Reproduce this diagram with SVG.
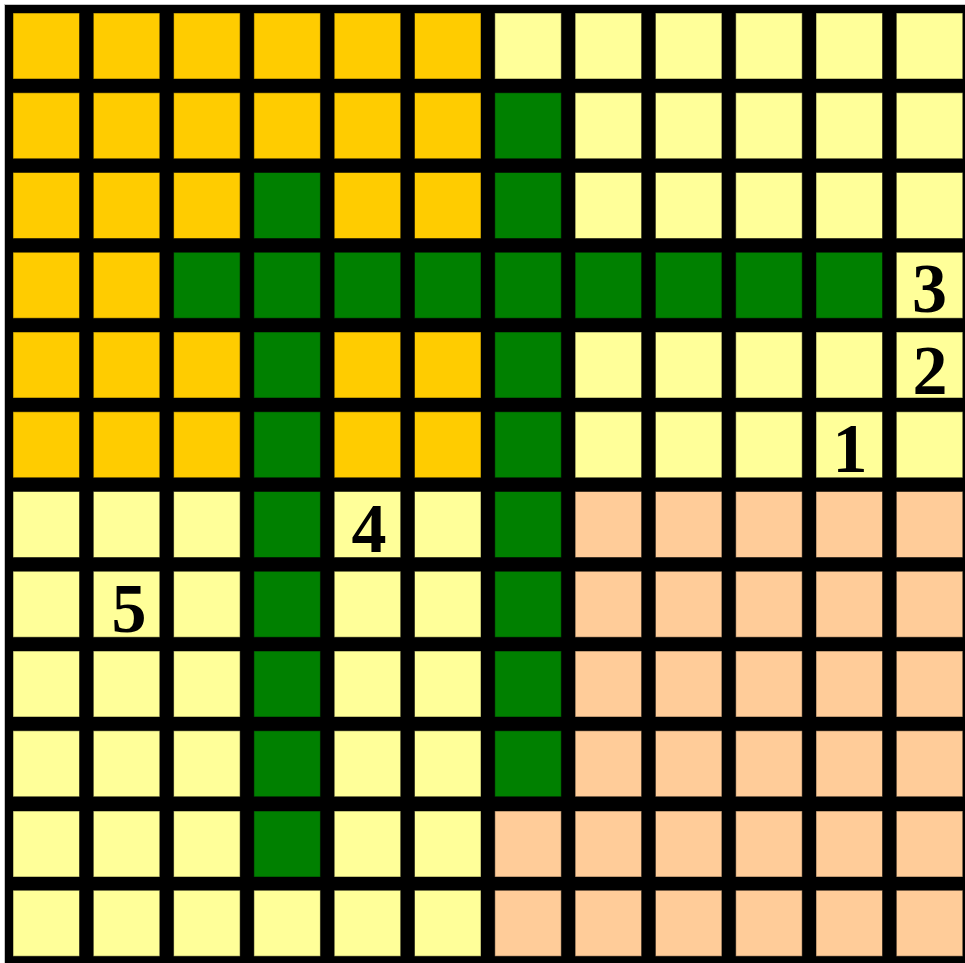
<svg xmlns="http://www.w3.org/2000/svg" width="965" height="963" viewBox="0 0 965 963">
<style>
rect.c{stroke:#000;stroke-opacity:0.5;stroke-width:1;width:66.5px;height:66px}
.o{fill:#FFCC00}.y{fill:#FFFF99}.g{fill:#008000}.p{fill:#FFCC99}
text{font-family:"Liberation Serif","Times New Roman",serif;font-weight:bold;font-size:70px;fill:#000;text-anchor:middle}
</style>
<rect x="0" y="0" width="965" height="963" fill="#fff"/>
<rect x="4" y="4" width="961" height="959" fill="#c4c4c4"/>
<rect x="5" y="5" width="960" height="958" fill="#000"/>
<g id="row0">
<rect class="c o" x="13" y="13" width="66.5" height="66"/><rect class="c o" x="93.3" y="13" width="66.5" height="66"/><rect class="c o" x="173.6" y="13" width="66.5" height="66"/><rect class="c o" x="253.9" y="13" width="66.5" height="66"/><rect class="c o" x="334.2" y="13" width="66.5" height="66"/><rect class="c o" x="414.5" y="13" width="66.5" height="66"/><rect class="c y" x="494.8" y="13" width="66.5" height="66"/><rect class="c y" x="575.1" y="13" width="66.5" height="66"/><rect class="c y" x="655.4" y="13" width="66.5" height="66"/><rect class="c y" x="735.7" y="13" width="66.5" height="66"/><rect class="c y" x="816" y="13" width="66.5" height="66"/><rect class="c y" x="896.3" y="13" width="66.5" height="66"/>
</g>
<g id="row1">
<rect class="c o" x="13" y="92.75" width="66.5" height="66"/><rect class="c o" x="93.3" y="92.75" width="66.5" height="66"/><rect class="c o" x="173.6" y="92.75" width="66.5" height="66"/><rect class="c o" x="253.9" y="92.75" width="66.5" height="66"/><rect class="c o" x="334.2" y="92.75" width="66.5" height="66"/><rect class="c o" x="414.5" y="92.75" width="66.5" height="66"/><rect class="c g" x="494.8" y="92.75" width="66.5" height="66"/><rect class="c y" x="575.1" y="92.75" width="66.5" height="66"/><rect class="c y" x="655.4" y="92.75" width="66.5" height="66"/><rect class="c y" x="735.7" y="92.75" width="66.5" height="66"/><rect class="c y" x="816" y="92.75" width="66.5" height="66"/><rect class="c y" x="896.3" y="92.75" width="66.5" height="66"/>
</g>
<g id="row2">
<rect class="c o" x="13" y="172.5" width="66.5" height="66"/><rect class="c o" x="93.3" y="172.5" width="66.5" height="66"/><rect class="c o" x="173.6" y="172.5" width="66.5" height="66"/><rect class="c g" x="253.9" y="172.5" width="66.5" height="66"/><rect class="c o" x="334.2" y="172.5" width="66.5" height="66"/><rect class="c o" x="414.5" y="172.5" width="66.5" height="66"/><rect class="c g" x="494.8" y="172.5" width="66.5" height="66"/><rect class="c y" x="575.1" y="172.5" width="66.5" height="66"/><rect class="c y" x="655.4" y="172.5" width="66.5" height="66"/><rect class="c y" x="735.7" y="172.5" width="66.5" height="66"/><rect class="c y" x="816" y="172.5" width="66.5" height="66"/><rect class="c y" x="896.3" y="172.5" width="66.5" height="66"/>
</g>
<g id="row3">
<rect class="c o" x="13" y="252.25" width="66.5" height="66"/><rect class="c o" x="93.3" y="252.25" width="66.5" height="66"/><rect class="c g" x="173.6" y="252.25" width="66.5" height="66"/><rect class="c g" x="253.9" y="252.25" width="66.5" height="66"/><rect class="c g" x="334.2" y="252.25" width="66.5" height="66"/><rect class="c g" x="414.5" y="252.25" width="66.5" height="66"/><rect class="c g" x="494.8" y="252.25" width="66.5" height="66"/><rect class="c g" x="575.1" y="252.25" width="66.5" height="66"/><rect class="c g" x="655.4" y="252.25" width="66.5" height="66"/><rect class="c g" x="735.7" y="252.25" width="66.5" height="66"/><rect class="c g" x="816" y="252.25" width="66.5" height="66"/><rect class="c y" x="896.3" y="252.25" width="66.5" height="66"/>
</g>
<g id="row4">
<rect class="c o" x="13" y="332" width="66.5" height="66"/><rect class="c o" x="93.3" y="332" width="66.5" height="66"/><rect class="c o" x="173.6" y="332" width="66.5" height="66"/><rect class="c g" x="253.9" y="332" width="66.5" height="66"/><rect class="c o" x="334.2" y="332" width="66.5" height="66"/><rect class="c o" x="414.5" y="332" width="66.5" height="66"/><rect class="c g" x="494.8" y="332" width="66.5" height="66"/><rect class="c y" x="575.1" y="332" width="66.5" height="66"/><rect class="c y" x="655.4" y="332" width="66.5" height="66"/><rect class="c y" x="735.7" y="332" width="66.5" height="66"/><rect class="c y" x="816" y="332" width="66.5" height="66"/><rect class="c y" x="896.3" y="332" width="66.5" height="66"/>
</g>
<g id="row5">
<rect class="c o" x="13" y="411.75" width="66.5" height="66"/><rect class="c o" x="93.3" y="411.75" width="66.5" height="66"/><rect class="c o" x="173.6" y="411.75" width="66.5" height="66"/><rect class="c g" x="253.9" y="411.75" width="66.5" height="66"/><rect class="c o" x="334.2" y="411.75" width="66.5" height="66"/><rect class="c o" x="414.5" y="411.75" width="66.5" height="66"/><rect class="c g" x="494.8" y="411.75" width="66.5" height="66"/><rect class="c y" x="575.1" y="411.75" width="66.5" height="66"/><rect class="c y" x="655.4" y="411.75" width="66.5" height="66"/><rect class="c y" x="735.7" y="411.75" width="66.5" height="66"/><rect class="c y" x="816" y="411.75" width="66.5" height="66"/><rect class="c y" x="896.3" y="411.75" width="66.5" height="66"/>
</g>
<g id="row6">
<rect class="c y" x="13" y="491.5" width="66.5" height="66"/><rect class="c y" x="93.3" y="491.5" width="66.5" height="66"/><rect class="c y" x="173.6" y="491.5" width="66.5" height="66"/><rect class="c g" x="253.9" y="491.5" width="66.5" height="66"/><rect class="c y" x="334.2" y="491.5" width="66.5" height="66"/><rect class="c y" x="414.5" y="491.5" width="66.5" height="66"/><rect class="c g" x="494.8" y="491.5" width="66.5" height="66"/><rect class="c p" x="575.1" y="491.5" width="66.5" height="66"/><rect class="c p" x="655.4" y="491.5" width="66.5" height="66"/><rect class="c p" x="735.7" y="491.5" width="66.5" height="66"/><rect class="c p" x="816" y="491.5" width="66.5" height="66"/><rect class="c p" x="896.3" y="491.5" width="66.5" height="66"/>
</g>
<g id="row7">
<rect class="c y" x="13" y="571.25" width="66.5" height="66"/><rect class="c y" x="93.3" y="571.25" width="66.5" height="66"/><rect class="c y" x="173.6" y="571.25" width="66.5" height="66"/><rect class="c g" x="253.9" y="571.25" width="66.5" height="66"/><rect class="c y" x="334.2" y="571.25" width="66.5" height="66"/><rect class="c y" x="414.5" y="571.25" width="66.5" height="66"/><rect class="c g" x="494.8" y="571.25" width="66.5" height="66"/><rect class="c p" x="575.1" y="571.25" width="66.5" height="66"/><rect class="c p" x="655.4" y="571.25" width="66.5" height="66"/><rect class="c p" x="735.7" y="571.25" width="66.5" height="66"/><rect class="c p" x="816" y="571.25" width="66.5" height="66"/><rect class="c p" x="896.3" y="571.25" width="66.5" height="66"/>
</g>
<g id="row8">
<rect class="c y" x="13" y="651" width="66.5" height="66"/><rect class="c y" x="93.3" y="651" width="66.5" height="66"/><rect class="c y" x="173.6" y="651" width="66.5" height="66"/><rect class="c g" x="253.9" y="651" width="66.5" height="66"/><rect class="c y" x="334.2" y="651" width="66.5" height="66"/><rect class="c y" x="414.5" y="651" width="66.5" height="66"/><rect class="c g" x="494.8" y="651" width="66.5" height="66"/><rect class="c p" x="575.1" y="651" width="66.5" height="66"/><rect class="c p" x="655.4" y="651" width="66.5" height="66"/><rect class="c p" x="735.7" y="651" width="66.5" height="66"/><rect class="c p" x="816" y="651" width="66.5" height="66"/><rect class="c p" x="896.3" y="651" width="66.5" height="66"/>
</g>
<g id="row9">
<rect class="c y" x="13" y="730.75" width="66.5" height="66"/><rect class="c y" x="93.3" y="730.75" width="66.5" height="66"/><rect class="c y" x="173.6" y="730.75" width="66.5" height="66"/><rect class="c g" x="253.9" y="730.75" width="66.5" height="66"/><rect class="c y" x="334.2" y="730.75" width="66.5" height="66"/><rect class="c y" x="414.5" y="730.75" width="66.5" height="66"/><rect class="c g" x="494.8" y="730.75" width="66.5" height="66"/><rect class="c p" x="575.1" y="730.75" width="66.5" height="66"/><rect class="c p" x="655.4" y="730.75" width="66.5" height="66"/><rect class="c p" x="735.7" y="730.75" width="66.5" height="66"/><rect class="c p" x="816" y="730.75" width="66.5" height="66"/><rect class="c p" x="896.3" y="730.75" width="66.5" height="66"/>
</g>
<g id="row10">
<rect class="c y" x="13" y="811" width="66.5" height="66"/><rect class="c y" x="93.3" y="811" width="66.5" height="66"/><rect class="c y" x="173.6" y="811" width="66.5" height="66"/><rect class="c g" x="253.9" y="811" width="66.5" height="66"/><rect class="c y" x="334.2" y="811" width="66.5" height="66"/><rect class="c y" x="414.5" y="811" width="66.5" height="66"/><rect class="c p" x="494.8" y="811" width="66.5" height="66"/><rect class="c p" x="575.1" y="811" width="66.5" height="66"/><rect class="c p" x="655.4" y="811" width="66.5" height="66"/><rect class="c p" x="735.7" y="811" width="66.5" height="66"/><rect class="c p" x="816" y="811" width="66.5" height="66"/><rect class="c p" x="896.3" y="811" width="66.5" height="66"/>
</g>
<g id="row11">
<rect class="c y" x="13" y="890.25" width="66.5" height="66.5"/><rect class="c y" x="93.3" y="890.25" width="66.5" height="66.5"/><rect class="c y" x="173.6" y="890.25" width="66.5" height="66.5"/><rect class="c y" x="253.9" y="890.25" width="66.5" height="66.5"/><rect class="c y" x="334.2" y="890.25" width="66.5" height="66.5"/><rect class="c y" x="414.5" y="890.25" width="66.5" height="66.5"/><rect class="c p" x="494.8" y="890.25" width="66.5" height="66.5"/><rect class="c p" x="575.1" y="890.25" width="66.5" height="66.5"/><rect class="c p" x="655.4" y="890.25" width="66.5" height="66.5"/><rect class="c p" x="735.7" y="890.25" width="66.5" height="66.5"/><rect class="c p" x="816" y="890.25" width="66.5" height="66.5"/><rect class="c p" x="896.3" y="890.25" width="66.5" height="66.5"/>
</g>
<g id="labels">
<text x="929.5" y="312">3</text>
<text x="930" y="394">2</text>
<text x="850" y="472">1</text>
<text x="369" y="552">4</text>
<text x="129" y="632">5</text>
</g>
</svg>
